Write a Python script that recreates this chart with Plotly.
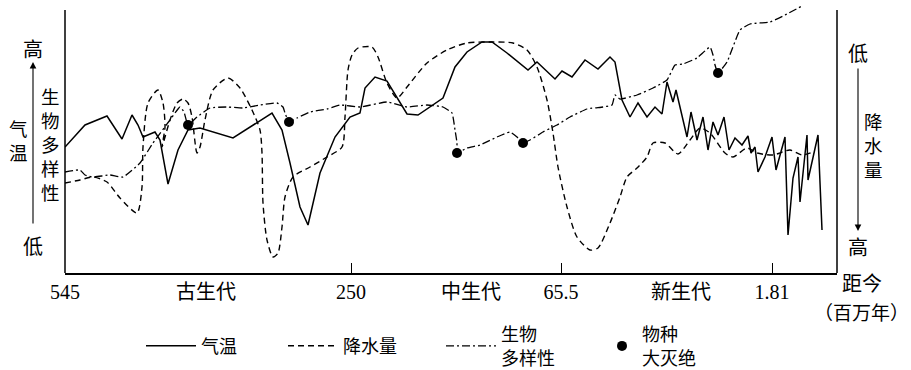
import plotly.graph_objects as go

# ---- data (x: relative time position 0 = 545 Ma ... 772 = present; y: relative level) ----
temp_x = [0, 20, 42, 57, 67, 73, 78, 90, 95, 103, 113, 123, 135, 168, 207, 217, 225, 235, 243, 255,
          270, 285, 295, 300, 310, 322, 342, 353, 378, 390, 402, 417, 427, 442, 463, 472, 490, 497,
          507, 520, 533, 545, 550, 557, 565, 573, 582, 590, 597, 602, 608, 611, 622, 626, 632, 638,
          643, 648, 653, 659, 664, 670, 677, 683, 686, 690, 693, 700, 707, 711, 720, 723, 728, 733,
          735, 742, 743, 748, 753, 757]
temp_y = [126, 148, 157, 134, 158, 148, 136, 141, 133, 89, 123, 143, 145, 135, 160, 143, 110, 66, 48, 100,
          136, 156, 160, 185, 196, 192, 159, 158, 175, 206, 221, 231, 231, 220, 203, 211, 194, 202,
          196, 213, 204, 216, 211, 173, 156, 170, 156, 166, 159, 191, 171, 183, 136, 161, 133, 156,
          123, 151, 138, 156, 123, 135, 128, 137, 120, 126, 101, 116, 136, 103, 136, 38, 95, 116,
          71, 138, 93, 116, 138, 43]

rain_x = [0, 15, 28, 42, 55, 72, 77, 78, 83, 93, 98, 100, 97, 105, 112, 118, 123, 127, 132, 135, 140,
          148, 163, 175, 187, 195, 197, 198, 202, 208, 213, 217, 220, 228, 245, 262, 277, 280, 283,
          287, 293, 307, 313, 322, 332, 342, 362, 382, 402, 428, 448, 462, 472, 482, 488, 493, 502,
          512, 525, 533, 545, 555, 562, 572, 582, 588, 600, 613, 625, 635, 645, 660, 668, 682, 692,
          708, 725, 737, 748]
rain_y = [90, 93, 96, 91, 75, 60, 86, 126, 170, 183, 170, 146, 126, 153, 170, 174, 170, 156, 120, 126, 153,
          183, 195, 185, 163, 143, 120, 70, 33, 16, 20, 46, 76, 96, 106, 116, 126, 156, 203,
          218, 225, 226, 216, 190, 175, 186, 210, 223, 230, 231, 230, 223, 206, 173, 140, 106, 66,
          36, 23, 25, 50, 76, 96, 105, 116, 130, 130, 119, 133, 145, 140, 120, 116, 125, 120,
          118, 123, 118, 121]

bio_x = [0, 15, 20, 28, 45, 58, 75, 88, 105, 115, 119, 123, 132, 145, 162, 178, 195, 212, 218, 220, 224,
         232, 245, 262, 275, 295, 322, 342, 362, 378, 387, 390, 392, 392, 402, 415, 432, 445, 452, 458,
         465, 478, 492, 505, 522, 538, 547, 550, 555, 572, 588, 602, 610, 618, 632, 645, 648, 650,
         653, 662, 675, 685, 705, 720, 737]
bio_y = [101, 103, 98, 96, 98, 96, 110, 130, 153, 166, 161, 148, 156, 165, 166, 165, 168, 170, 166, 160, 151,
         155, 161, 164, 168, 166, 171, 166, 168, 166, 160, 143, 130, 120, 125, 128, 136, 141, 136, 130,
         133, 141, 148, 156, 164, 166, 168, 178, 174, 178, 185, 193, 208, 209, 215, 226, 218, 208,
         200, 211, 243, 249, 251, 258, 267]

ext_x = [123, 224, 392, 458, 653]
ext_y = [148, 151, 120, 130, 200]

tick_pos = [0, 286, 496, 707]
tick_text = ["545", "250", "65.5", "1.81"]
era_names = ["古生代", "中生代", "新生代"]
era_pos = [141, 406, 616]

CJK = "Noto Sans CJK SC, Noto Sans CJK JP, sans-serif"
SERIF = "Liberation Serif, Times New Roman, serif"

W, H = 911, 370
L, R, T, B = 65, 74, 4, 97
PW, PH = W - L - R, H - T - B


def P(px, py):
    return (px - L) / PW, (H - B - py) / PH


fig = go.Figure()
fig.add_trace(go.Scatter(x=temp_x, y=temp_y, mode="lines", name="气温", legend="legend",
                         line=dict(color="black", width=1.5)))
fig.add_trace(go.Scatter(x=rain_x, y=rain_y, mode="lines", name="降水量", legend="legend2",
                         line=dict(color="black", width=1.4, dash="6px,4px", shape="spline", smoothing=0.7)))
fig.add_trace(go.Scatter(x=bio_x, y=bio_y, mode="lines", name="生物<br>多样性", legend="legend3",
                         line=dict(color="black", width=1.3, dash="8px,3px,2px,3px", shape="spline", smoothing=0.4)))
fig.add_trace(go.Scatter(x=ext_x, y=ext_y, mode="markers", name="物种<br>大灭绝", legend="legend4",
                         marker=dict(color="black", size=10)))

shapes = []
# left and right vertical frame lines
for xp in (0, 1):
    shapes.append(dict(type="line", xref="paper", yref="paper", x0=xp, x1=xp,
                       y0=0, y1=P(0, 10)[1], line=dict(color="black", width=1.5)))

ann = []


def text(px, py, s, size=20, font=CJK):
    x, y = P(px, py)
    ann.append(dict(x=x, y=y, xref="paper", yref="paper", text=s, showarrow=False,
                    font=dict(family=font, size=size, color="black"),
                    xanchor="center", yanchor="middle"))


def vtext(px, pyc, s, size=18.5):
    text(px, pyc, "<br>".join(s), size)


def arrow(px, py_tail, py_head):
    x, y = P(px, py_head)
    ann.append(dict(x=x, y=y, xref="paper", yref="paper", ax=0, ay=py_tail - py_head,
                    axref="pixel", ayref="pixel", text="", showarrow=True,
                    arrowhead=2, arrowsize=1.2, arrowwidth=1.1, arrowcolor="black"))


# left side
text(33, 49, "高")
text(33, 245, "低")
arrow(33, 225, 62)
vtext(18, 140, "气温")
vtext(50, 144, "生物多样性")
# right side
text(858, 52, "低")
text(858, 246, "高")
arrow(858, 67, 231)
vtext(873, 145, "降水量")
# bottom
for nm, p in zip(era_names, era_pos):
    ann.append(dict(x=p, y=P(0, 290)[1], xref="x", yref="paper", text=nm, showarrow=False,
                    font=dict(family=CJK, size=20, color="black"), xanchor="center", yanchor="middle"))
text(862, 282, "距今")
text(862, 311, "（百万年）", 19)


def leg(px, iw):
    return dict(orientation="h", x=P(px, 0)[0], y=P(0, 346)[1], xanchor="left", yanchor="middle",
                font=dict(family=CJK, size=18, color="black"), itemwidth=iw,
                bgcolor="rgba(0,0,0,0)", valign="middle")


fig.update_layout(
    width=W, height=H,
    margin=dict(l=L, r=R, t=T, b=B, autoexpand=False),
    plot_bgcolor="white", paper_bgcolor="white",
    shapes=shapes, annotations=ann,
    showlegend=True,
    legend=leg(141, 50),
    legend2=leg(283, 50),
    legend3=leg(441, 50),
    legend4=leg(602, 30),
    xaxis=dict(range=[0, PW], showgrid=False, zeroline=False, showline=True, linecolor="black",
               linewidth=1.5, ticks="inside", ticklen=10, tickwidth=1.2, tickcolor="black",
               tickvals=tick_pos, ticktext=tick_text,
               tickfont=dict(family=SERIF, size=20, color="black"), fixedrange=True),
    yaxis=dict(range=[0, PH], showgrid=False, zeroline=False, showline=False,
               showticklabels=False, ticks="", fixedrange=True),
)

fig.write_html("out.html")
